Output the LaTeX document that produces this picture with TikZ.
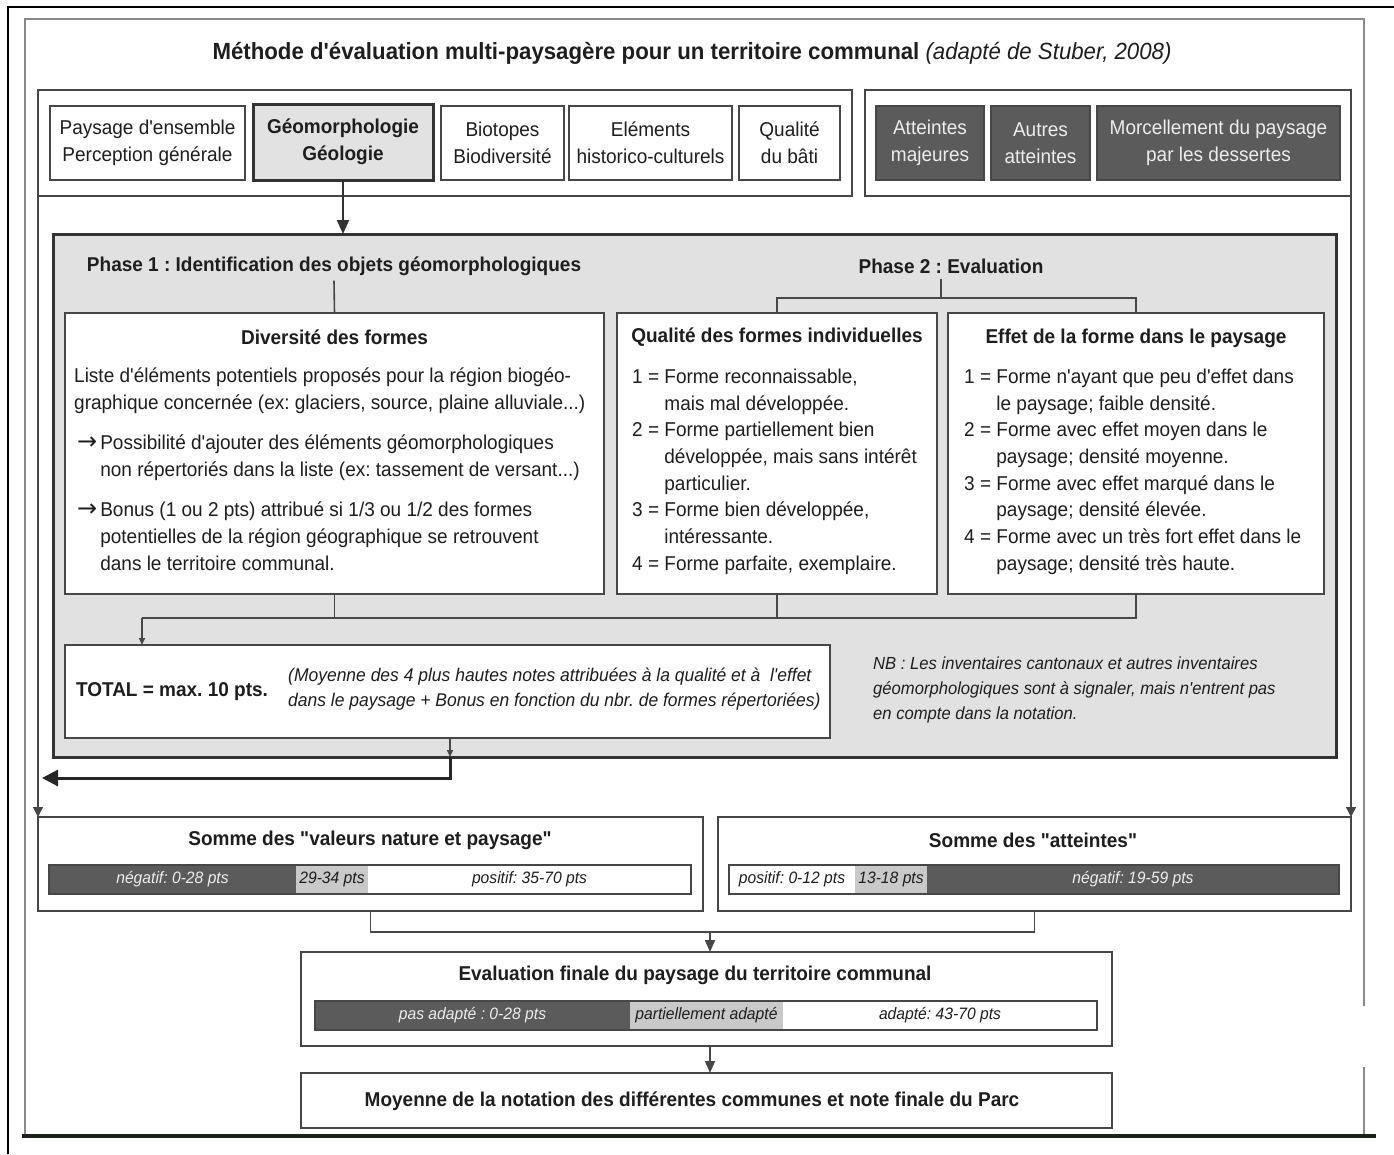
\documentclass[tikz,border=0pt]{standalone}
\usepackage{fontspec}
\setmainfont{Liberation Sans}[Ligatures=TeXOff, FakeStretch=0.95]
\newfontfamily\arrowfont{DejaVu Sans}
\usetikzlibrary{arrows.meta}
\definecolor{bord}{HTML}{474747}
\definecolor{bordd}{HTML}{333333}
\definecolor{geofill}{HTML}{E2E2E2}
\definecolor{phasefill}{HTML}{E1E1E1}
\definecolor{darkfill}{HTML}{5B5B5B}
\definecolor{barlight}{HTML}{C9C9C9}
\definecolor{framegray}{HTML}{8A8A8A}
\definecolor{txt}{HTML}{1E1E1E}
\definecolor{lighttxt}{HTML}{EDEDED}
\definecolor{botline}{HTML}{1C211C}
\newcommand\fsz[2]{\fontsize{#1}{#2}\selectfont}
\newcommand\arr{{\arrowfont\fontsize{24}{26}\selectfont →}}
\frenchspacing
\begin{document}
\begin{tikzpicture}[x=1pt,y=-1pt,
  sz/.style 2 args={minimum width=#1pt, minimum height=#2pt},
  box/.style={draw=bord, line width=1.8pt, fill=white, inner sep=0pt, outer sep=0pt, align=center, font=\fsz{20}{27}, text=txt},
  geobox/.style={box, line width=3pt, draw=bordd, fill=geofill, font=\fsz{20}{27}\bfseries},
  darkbox/.style={box, fill=darkfill, text=lighttxt},
  panel/.style={draw=bord, line width=1.8pt, inner sep=0pt, outer sep=0pt},
  phasebox/.style={draw=bordd, line width=3pt, fill=phasefill, inner sep=0pt, outer sep=0pt},
  hdr/.style={font=\fsz{20}{23}\bfseries, text=txt, inner sep=0pt},
  body/.style={font=\fsz{20}{26.7}, text=txt, inner sep=0pt, align=left},
  note/.style={font=\fsz{17.5}{25}\itshape, text=txt, inner sep=0pt, align=left},
  seg/.style={inner sep=0pt, outer sep=0pt, minimum height=29pt, font=\fsz{16.5}{19}\itshape},
  barline/.style={draw=bord, line width=1.8pt, inner sep=0pt, outer sep=0pt, minimum height=29pt},
  conn/.style={draw=bord, line width=1.6pt},
  smalltip/.style={-{Triangle[length=7pt,width=6pt]}},
  midtip/.style={-{Triangle[length=12pt,width=10pt]}},
]
\useasboundingbox (0,0) rectangle (1394,1154);
% outer frames
\draw[line width=2.5pt, black] (8,1154) -- (8,7) -- (1394,7);
\draw[line width=2.5pt, framegray] (25,1135) -- (25,19) -- (1364,19) -- (1364,1006);
\draw[line width=2.5pt, framegray] (1364,1067) -- (1364,1135);
\draw[line width=4pt, botline] (22,1136) -- (1376,1136);

% title
\node[font=\fsz{23.4}{27}\bfseries, text=txt, inner sep=0pt] (title) at (692,53)
  {Méthode d'évaluation multi-paysagère pour un territoire communal \textmd{\itshape (adapté de Stuber, 2008)}};

% top panels
\node[panel, sz={814}{106}] (lp) at (445,143) {};
\node[panel, sz={486}{106}] (rp) at (1108,143) {};
\node[box, sz={195}{74}] (b1) at (147.5,143) {Paysage d'ensemble\\Perception générale};
\node[geobox, sz={180}{76}] (b2) at (343,142) {Géomorphologie\\Géologie};
\node[box, sz={123}{74}] (b3) at (502.5,143) {Biotopes\\Biodiversité};
\node[box, sz={163}{74}] (b4) at (650.5,143) {Eléments\\historico-culturels};
\node[box, sz={101}{74}] (b5) at (789.5,143) {Qualité\\du bâti};
\node[darkbox, sz={108}{74}] (d1) at (930,143) {Atteintes\\majeures};
\node[darkbox, sz={99}{74}] (d2) at (1040.5,143) {Autres\\atteintes};
\node[darkbox, sz={243}{74}] (d3) at (1218.5,143) {Morcellement du paysage\\par les dessertes};

% phase box
\node[phasebox, sz={1283}{523}] (ph) at (694.5,495.5) {};
\draw[line width=2pt, draw=bordd, -{Triangle[length=14pt,width=12pt]}] (b2.south) -- (b2.south |- ph.north);

\node[hdr] (p1) at (334,266) {Phase 1 : Identification des objets géomorphologiques};
\node[hdr] (p2) at (951,266) {Phase 2 : Evaluation};

\node[box, sz={539}{281}] (div) at (334.5,453.5) {};
\node[box, sz={320}{281}] (qual) at (777,453.5) {};
\node[box, sz={376}{281}] (eff) at (1136,453.5) {};

\coordinate (p2j) at (941,298);
\draw[conn] (p1.south) ++(0,5) -- (div.north);
\draw[conn] (p2.south -| p2j) ++(0,5) -- (p2j);
\draw[conn] (qual.north) |- (p2j) -| (eff.north);

% Diversité contents
\node[hdr] (divt) at (334.5,337) {Diversité des formes};
\node[body, anchor=west] (dv1) at (74,391) {Liste d'éléments potentiels proposés pour la région biogéo-\\graphique concernée (ex: glaciers, source, plaine alluviale...)};
\node[body, anchor=west] (dv2) at (77,457.5) {\begin{tabular}{@{}l@{\hspace{3pt}}l@{}}\arr&Possibilité d'ajouter des éléments géomorphologiques\\&non répertoriés dans la liste (ex: tassement de versant...)\end{tabular}};
\node[body, anchor=west] (dv3) at (77,538) {\begin{tabular}{@{}l@{\hspace{3pt}}l@{}}\arr&Bonus (1 ou 2 pts) attribué si 1/3 ou 1/2 des formes\\&potentielles de la région géographique se retrouvent\\&dans le territoire communal.\end{tabular}};

% Qualité contents
\node[hdr] (qualt) at (777,337) {Qualité des formes individuelles};
\node[body, anchor=west] (qualx) at (632,471.5) {\begin{tabular}{@{}l@{ }l@{}}1 =&Forme reconnaissable,\\&mais mal développée.\\2 =&Forme partiellement bien\\&développée, mais sans intérêt\\&particulier.\\3 =&Forme bien développée,\\&intéressante.\\4 =&Forme parfaite, exemplaire.\end{tabular}};

% Effet contents
\node[hdr] (efft) at (1136,338) {Effet de la forme dans le paysage};
\node[body, anchor=west] (effx) at (964,471.5) {\begin{tabular}{@{}l@{ }l@{}}1 =&Forme n'ayant que peu d'effet dans\\&le paysage; faible densité.\\2 =&Forme avec effet moyen dans le\\&paysage; densité moyenne.\\3 =&Forme avec effet marqué dans le\\&paysage; densité élevée.\\4 =&Forme avec un très fort effet dans le\\&paysage; densité très haute.\end{tabular}};

% total
\node[box, sz={765}{93}] (tot) at (447.5,691.5) {};
\node[hdr] (totl) at (172,692) {TOTAL = max. 10 pts.};
\node[note, font=\fsz{18.4}{25}\itshape, align=left, anchor=west] (totn) at (288,689) {(Moyenne des 4 plus hautes notes attribuées à la qualité et à\ \ l'effet\\dans le paysage + Bonus en fonction du nbr. de formes répertoriées)};
\node[note, anchor=west] (nb) at (873,690) {NB : Les inventaires cantonaux et autres inventaires\\géomorphologiques sont à signaler, mais n'entrent pas\\en compte dans la notation.};

\coordinate (j1) at (142,618);
\draw[conn] (div.south) |- (j1);
\draw[conn] (eff.south) |- (div.south |- j1);
\draw[conn] (qual.south) -- (qual.south |- j1);
\draw[conn, smalltip] (j1) -- (j1 |- tot.north);

\coordinate (tb) at (450,778);
\coordinate (tl) at (42,778);
\draw[conn, smalltip] (tot.south -| tb) -- (ph.south -| tb);
\draw[line width=3pt, draw=black!85, -{Triangle[length=16pt,width=16pt]}] (ph.south -| tb) -- (tb) -- (tl);

% sums
\node[box, sz={665}{94}] (sv) at (370.5,864) {};
\node[box, sz={633}{94}] (sa) at (1034.5,864) {};
\draw[conn, line width=1.4pt, -{Triangle[length=10pt,width=10pt]}] (lp.south west) -- (sv.north west);
\draw[conn, line width=1.4pt, -{Triangle[length=10pt,width=10pt]}] (rp.south east) -- (sa.north east);

\node[hdr] (svt) at (370,840) {Somme des "valeurs nature et paysage"};
\node[seg, fill=darkfill, text=lighttxt, minimum width=247pt] (sv1) at (172.5,879.5) {négatif: 0-28 pts};
\node[seg, fill=barlight, text=txt, minimum width=72pt] (sv2) at (332,879.5) {29-34 pts};
\node[seg, fill=white, text=txt, minimum width=323pt] (sv3) at (529.5,879.5) {positif: 35-70 pts};
\node[barline, minimum width=642pt] (svb) at (370,879.5) {};

\node[hdr] (sat) at (1033,840) {Somme des "atteintes"};
\node[seg, fill=white, text=txt, minimum width=126pt] (sa1) at (792,879.5) {positif: 0-12 pts};
\node[seg, fill=barlight, text=txt, minimum width=72pt] (sa2) at (891,879.5) {13-18 pts};
\node[seg, fill=darkfill, text=lighttxt, minimum width=412pt] (sa3) at (1133,879.5) {négatif: 19-59 pts};
\node[barline, minimum width=610pt] (sab) at (1034,879.5) {};

% final evaluation
\node[box, sz={811}{94}] (ef) at (706.5,999) {};
\coordinate (j2) at (710,932);
\draw[conn] (sv.south) |- (sa.south |- j2) -- (sa.south);
\draw[conn, midtip] (j2) -- (j2 |- ef.north);

\node[hdr] (eft) at (695,975) {Evaluation finale du paysage du territoire communal};
\node[seg, fill=darkfill, text=lighttxt, minimum width=315pt] (e1) at (472.5,1015.5) {pas adapté : 0-28 pts};
\node[seg, fill=barlight, text=txt, minimum width=153pt] (e2) at (706.5,1015.5) {partiellement adapté};
\node[seg, fill=white, text=txt, minimum width=314pt] (e3) at (940,1015.5) {adapté: 43-70 pts};
\node[barline, minimum width=782pt] (efb) at (706,1015.5) {};

\node[box, sz={811}{55}] (mo) at (706.5,1100.5) {};
\draw[conn, midtip] (j2 |- ef.south) -- (j2 |- mo.north);
\node[hdr] (mot) at (692,1101) {Moyenne de la notation des différentes communes et note finale du Parc};
\end{tikzpicture}
\end{document}
